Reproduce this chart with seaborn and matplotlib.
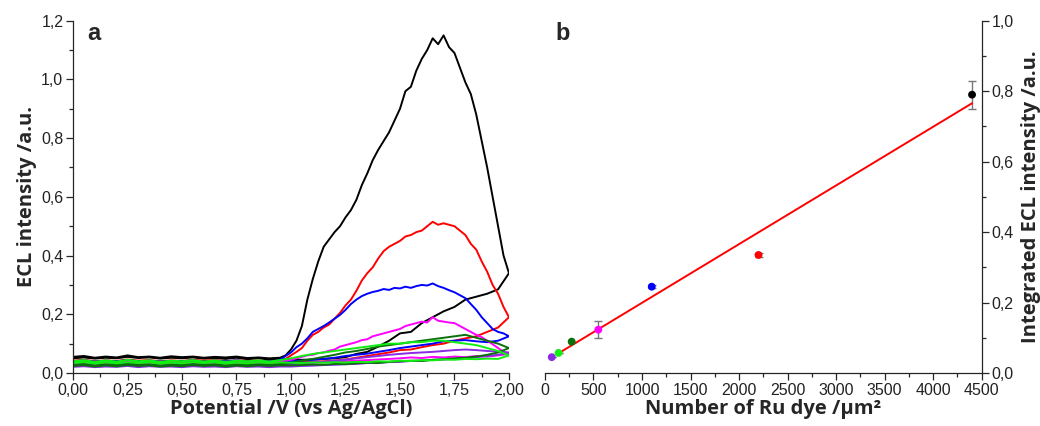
import numpy as np
import pandas as pd
import seaborn as sns
from matplotlib import pyplot as plt
from matplotlib.ticker import MultipleLocator, FuncFormatter

# ---- panel a: ECL vs potential, forward and reverse sweep per sample ----
POTENTIAL = [0.00, 0.05, 0.10, 0.15, 0.20, 0.25, 0.30, 0.35, 0.40, 0.45,
             0.50, 0.55, 0.60, 0.65, 0.70, 0.75, 0.80, 0.85, 0.90, 0.95,
             1.00, 1.05, 1.10, 1.15, 1.20, 1.25, 1.30, 1.35, 1.40, 1.45,
             1.50, 1.55, 1.60, 1.65, 1.70, 1.75, 1.80, 1.85, 1.90, 1.95, 2.00]
# denser sampling where the big curves rise and fall
POTENTIAL_FINE = [0.00, 0.05, 0.10, 0.15, 0.20, 0.25, 0.30, 0.35, 0.40, 0.45,
                  0.50, 0.55, 0.60, 0.65, 0.70, 0.75, 0.80, 0.85, 0.90,
                  0.925, 0.950, 0.975, 1.000, 1.025, 1.050, 1.075, 1.100, 1.125, 1.150,
                  1.175, 1.200, 1.225, 1.250, 1.275, 1.300, 1.325, 1.350, 1.375, 1.400,
                  1.425, 1.450, 1.475, 1.500, 1.525, 1.550, 1.575, 1.600, 1.625, 1.650,
                  1.675, 1.700, 1.725, 1.750, 1.775, 1.800, 1.825, 1.850, 1.875, 1.900,
                  1.925, 1.950, 1.975, 2.000]

black_fwd = [0.055, 0.058, 0.052, 0.056, 0.053, 0.060, 0.054, 0.056, 0.052, 0.057,
             0.054, 0.056, 0.052, 0.055, 0.053, 0.056, 0.051, 0.053, 0.050,
             0.051, 0.052, 0.060, 0.080, 0.110, 0.160, 0.250, 0.320, 0.380, 0.430,
             0.455, 0.480, 0.500, 0.530, 0.555, 0.590, 0.640, 0.680, 0.725, 0.760,
             0.790, 0.820, 0.860, 0.900, 0.960, 0.975, 1.030, 1.070, 1.100, 1.140,
             1.120, 1.150, 1.110, 1.090, 1.040, 0.990, 0.950, 0.880, 0.790, 0.700,
             0.600, 0.500, 0.400, 0.340]
black_rev = [0.050, 0.053, 0.049, 0.052, 0.050, 0.055, 0.051, 0.053, 0.049, 0.052,
             0.050, 0.053, 0.049, 0.051, 0.048, 0.052, 0.047, 0.050, 0.046, 0.048,
             0.046, 0.045, 0.046, 0.048, 0.050, 0.054, 0.065, 0.072, 0.090, 0.110,
             0.135, 0.140, 0.170, 0.190, 0.210, 0.225, 0.250, 0.260, 0.270, 0.285, 0.340]

red_fwd = [0.042, 0.045, 0.040, 0.043, 0.041, 0.046, 0.042, 0.044, 0.040, 0.043,
           0.041, 0.045, 0.042, 0.044, 0.040, 0.043, 0.041, 0.042, 0.040,
           0.040, 0.042, 0.048, 0.060, 0.072, 0.085, 0.110, 0.130, 0.140, 0.155,
           0.165, 0.185, 0.205, 0.230, 0.250, 0.280, 0.315, 0.340, 0.360, 0.390,
           0.415, 0.430, 0.440, 0.450, 0.465, 0.470, 0.480, 0.485, 0.500, 0.515,
           0.505, 0.510, 0.505, 0.500, 0.485, 0.470, 0.440, 0.420, 0.380, 0.345,
           0.300, 0.270, 0.225, 0.190]
red_rev = [0.036, 0.039, 0.035, 0.038, 0.036, 0.040, 0.036, 0.038, 0.035, 0.037,
           0.036, 0.039, 0.035, 0.037, 0.034, 0.037, 0.035, 0.036, 0.034, 0.036,
           0.036, 0.037, 0.038, 0.040, 0.042, 0.046, 0.052, 0.058, 0.064, 0.070,
           0.078, 0.080, 0.088, 0.095, 0.100, 0.110, 0.118, 0.125, 0.140, 0.155, 0.190]

blue_fwd = [0.040, 0.043, 0.039, 0.042, 0.040, 0.044, 0.040, 0.042, 0.039, 0.041,
            0.040, 0.043, 0.039, 0.042, 0.040, 0.043, 0.039, 0.041, 0.040,
            0.041, 0.045, 0.058, 0.070, 0.088, 0.100, 0.118, 0.140, 0.150, 0.160,
            0.172, 0.185, 0.198, 0.215, 0.235, 0.250, 0.262, 0.270, 0.276, 0.280,
            0.286, 0.283, 0.290, 0.288, 0.294, 0.290, 0.296, 0.300, 0.298, 0.305,
            0.296, 0.290, 0.282, 0.275, 0.265, 0.255, 0.235, 0.215, 0.190, 0.170,
            0.150, 0.140, 0.135, 0.125]
blue_rev = [0.036, 0.038, 0.035, 0.037, 0.036, 0.039, 0.035, 0.037, 0.034, 0.036,
            0.035, 0.038, 0.035, 0.037, 0.034, 0.036, 0.035, 0.037, 0.036, 0.038,
            0.040, 0.042, 0.045, 0.048, 0.052, 0.058, 0.062, 0.066, 0.072, 0.078,
            0.085, 0.090, 0.095, 0.100, 0.108, 0.110, 0.112, 0.108, 0.105, 0.110, 0.125]

magenta_fwd = [0.036, 0.039, 0.035, 0.038, 0.036, 0.040, 0.035, 0.038, 0.036, 0.039,
               0.035, 0.037, 0.036, 0.039, 0.035, 0.038, 0.036, 0.038, 0.035,
               0.036, 0.040, 0.042, 0.045, 0.050, 0.055, 0.060, 0.062, 0.068, 0.070,
               0.076, 0.080, 0.090, 0.095, 0.100, 0.105, 0.112, 0.115, 0.125, 0.130,
               0.135, 0.140, 0.145, 0.150, 0.160, 0.165, 0.170, 0.175, 0.172, 0.190,
               0.178, 0.175, 0.172, 0.170, 0.160, 0.150, 0.140, 0.130, 0.122, 0.110,
               0.098, 0.085, 0.072, 0.065]
magenta_rev = [0.032, 0.034, 0.031, 0.033, 0.032, 0.035, 0.031, 0.033, 0.032, 0.034,
               0.031, 0.033, 0.032, 0.034, 0.031, 0.033, 0.032, 0.033, 0.031, 0.033,
               0.033, 0.034, 0.035, 0.036, 0.038, 0.040, 0.042, 0.044, 0.046, 0.048,
               0.050, 0.053, 0.051, 0.055, 0.053, 0.056, 0.054, 0.058, 0.056, 0.060, 0.065]

dkgreen_fwd = [0.028, 0.031, 0.026, 0.030, 0.027, 0.032, 0.028, 0.030, 0.026, 0.029,
               0.027, 0.031, 0.028, 0.030, 0.026, 0.029, 0.027, 0.030, 0.028, 0.031,
               0.035, 0.042, 0.048, 0.055, 0.062, 0.070, 0.075, 0.082, 0.090, 0.095,
               0.100, 0.105, 0.110, 0.115, 0.120, 0.125, 0.130, 0.120, 0.110, 0.100, 0.085]
dkgreen_rev = [0.024, 0.027, 0.022, 0.026, 0.023, 0.027, 0.024, 0.026, 0.022, 0.025,
               0.023, 0.027, 0.024, 0.026, 0.022, 0.025, 0.023, 0.026, 0.024, 0.026,
               0.026, 0.027, 0.029, 0.028, 0.031, 0.030, 0.033, 0.035, 0.034, 0.038,
               0.040, 0.042, 0.041, 0.045, 0.047, 0.050, 0.052, 0.056, 0.062, 0.070, 0.085]

purple_fwd = [0.026, 0.029, 0.024, 0.028, 0.025, 0.029, 0.026, 0.028, 0.024, 0.027,
              0.025, 0.029, 0.026, 0.028, 0.024, 0.027, 0.025, 0.028, 0.026, 0.028,
              0.030, 0.033, 0.036, 0.038, 0.042, 0.045, 0.050, 0.054, 0.058, 0.062,
              0.065, 0.068, 0.070, 0.072, 0.075, 0.078, 0.080, 0.078, 0.075, 0.073, 0.070]
purple_rev = [0.021, 0.023, 0.020, 0.022, 0.021, 0.024, 0.020, 0.023, 0.021, 0.022,
              0.020, 0.023, 0.021, 0.022, 0.020, 0.023, 0.021, 0.022, 0.020, 0.022,
              0.022, 0.024, 0.025, 0.027, 0.028, 0.030, 0.031, 0.034, 0.035, 0.037,
              0.038, 0.041, 0.042, 0.045, 0.046, 0.048, 0.050, 0.054, 0.058, 0.062, 0.070]

lime_fwd = [0.040, 0.044, 0.038, 0.043, 0.039, 0.045, 0.040, 0.043, 0.038, 0.042,
            0.040, 0.044, 0.039, 0.043, 0.038, 0.042, 0.040, 0.043, 0.039, 0.044,
            0.050, 0.058, 0.065, 0.070, 0.075, 0.080, 0.085, 0.090, 0.095, 0.100,
            0.100, 0.105, 0.105, 0.110, 0.110, 0.105, 0.100, 0.095, 0.085, 0.075, 0.060]
lime_rev = [0.034, 0.037, 0.032, 0.036, 0.033, 0.037, 0.034, 0.036, 0.032, 0.035,
            0.033, 0.037, 0.034, 0.036, 0.032, 0.035, 0.033, 0.036, 0.034, 0.036,
            0.035, 0.034, 0.036, 0.035, 0.037, 0.036, 0.038, 0.037, 0.040, 0.039,
            0.042, 0.041, 0.044, 0.043, 0.046, 0.045, 0.048, 0.047, 0.049, 0.048, 0.060]

sweeps = [
    ("#000000", POTENTIAL_FINE, black_fwd, black_rev),
    ("#ff0000", POTENTIAL_FINE, red_fwd, red_rev),
    ("#0000ff", POTENTIAL_FINE, blue_fwd, blue_rev),
    ("#ff00ff", POTENTIAL_FINE, magenta_fwd, magenta_rev),
    ("#8a2be2", POTENTIAL, purple_fwd, purple_rev),
    ("#0a700a", POTENTIAL, dkgreen_fwd, dkgreen_rev),
    ("#11ee11", POTENTIAL, lime_fwd, lime_rev),
]

# ---- panel b: integrated ECL vs dye density ----
dye_density = [70, 140, 275, 550, 1100, 2200, 4400]
integrated_ecl = [0.045, 0.057, 0.089, 0.123, 0.245, 0.335, 0.790]
ecl_err = [0.0, 0.0, 0.0, 0.025, 0.005, 0.005, 0.040]
point_colors = ["#8a2be2", "#11ee11", "#0a700a", "#ff00ff", "#0000ff", "#ff0000", "#000000"]

sns.set_style("ticks")
plt.rcParams['font.family'] = ['Liberation Sans', 'DejaVu Sans']
plt.rcParams['axes.linewidth'] = 0.9

comma = lambda nd: FuncFormatter(lambda v, p: f"{v:.{nd}f}".replace('.', ','))
lab_font = dict(family=['Open Sans', 'DejaVu Sans'], fontweight='bold', fontsize=14.5)

fig = plt.figure(figsize=(10.4, 4.26), dpi=100)
ax1 = fig.add_axes([0.0702, 0.1244, 0.4192, 0.827])
ax2 = fig.add_axes([0.524, 0.1244, 0.420, 0.827])

for col, xs, fwd, rev in sweeps:
    df = pd.DataFrame({'V': xs + POTENTIAL[::-1], 'I': fwd + rev[::-1]})
    sns.lineplot(data=df, x='V', y='I', sort=False, estimator=None, color=col,
                 linewidth=1.4, ax=ax1)

ax1.set_xlim(0, 2.0)
ax1.set_ylim(0, 1.2)
ax1.xaxis.set_major_locator(MultipleLocator(0.25))
ax1.xaxis.set_minor_locator(MultipleLocator(0.125))
ax1.yaxis.set_major_locator(MultipleLocator(0.2))
ax1.yaxis.set_minor_locator(MultipleLocator(0.1))
ax1.xaxis.set_major_formatter(comma(2))
ax1.yaxis.set_major_formatter(comma(1))
ax1.set_xlabel("Potential /V (vs Ag/AgCl)", labelpad=1, **lab_font)
ax1.set_ylabel("ECL intensity /a.u.", labelpad=3, **lab_font)
sns.despine(ax=ax1)
ax1.text(0.047, 0.965, "a", transform=ax1.transAxes, fontsize=17, fontweight='bold',
         ha='center', va='center')

# points + error bars
pts = pd.DataFrame({'n': dye_density, 'ecl': integrated_ecl, 'c': point_colors})
ax2.errorbar(dye_density, integrated_ecl, yerr=ecl_err, fmt='none', ecolor='#777777',
             elinewidth=1, capsize=3, capthick=1, zorder=2)
slope, icpt = np.polyfit(dye_density, integrated_ecl, 1)
fit_x = np.array([dye_density[1], dye_density[-1]])
ax2.plot(fit_x, slope * fit_x + icpt, color='#ff0000', linewidth=1.4, zorder=3)
sns.scatterplot(data=pts, x='n', y='ecl', hue='c', palette=dict(zip(point_colors, point_colors)),
                s=32, edgecolor='none', legend=False, zorder=4, ax=ax2)

ax2.set_xlim(0, 4500)
ax2.set_ylim(0, 1.0)
ax2.xaxis.set_major_locator(MultipleLocator(500))
ax2.xaxis.set_minor_locator(MultipleLocator(250))
ax2.yaxis.set_major_locator(MultipleLocator(0.2))
ax2.yaxis.set_minor_locator(MultipleLocator(0.1))
ax2.yaxis.set_major_formatter(comma(1))
ax2.yaxis.tick_right()
ax2.yaxis.set_label_position('right')
ax2.spines['left'].set_visible(False)
ax2.spines['top'].set_visible(False)
ax2.set_xlabel("Number of Ru dye /µm²", labelpad=1, **lab_font)
ax2.set_ylabel("Integrated ECL intensity /a.u.", labelpad=5, **lab_font)
ax2.text(0.04, 0.965, "b", transform=ax2.transAxes, fontsize=17, fontweight='bold',
         ha='center', va='center')

for ax in (ax1, ax2):
    ax.tick_params(which='major', direction='out', length=5, width=0.9,
                   labelsize=11.5, labelcolor='#222222', pad=2)
    ax.tick_params(which='minor', direction='out', length=3, width=0.9)

plt.savefig("out.png", dpi=100)
